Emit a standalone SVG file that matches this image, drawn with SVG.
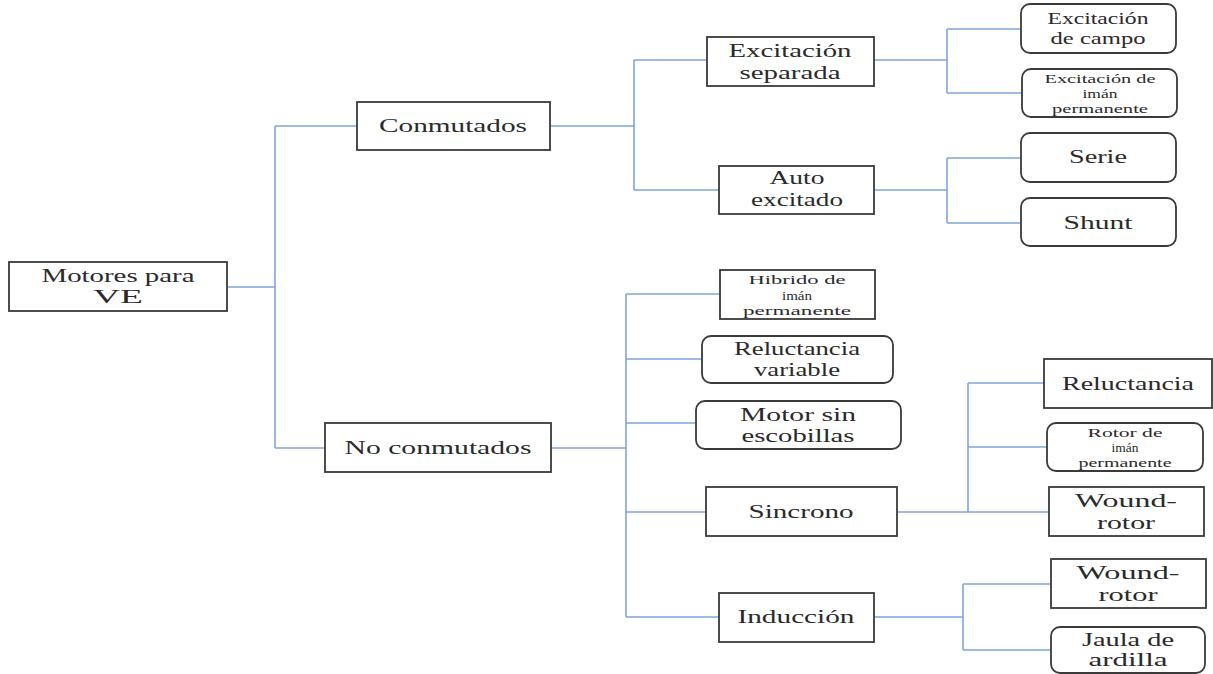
<svg xmlns="http://www.w3.org/2000/svg" width="1213" height="674" viewBox="0 0 1213 674">
<style>
.box{fill:#ffffff;stroke:#3a3a3a;stroke-width:1.8}
.t{font-family:"Liberation Serif","Times New Roman",serif;fill:#2a2a2a;text-anchor:middle;font-size:19px}
.m{font-size:17px}
.s{font-size:13px}
.c{fill:none;stroke:#7fa5da;stroke-width:1.6}
</style>
<rect width="1213" height="674" fill="#ffffff"/>
<g id="connectors">
<path class="c" d="M227,287 H275 M275,126 V448 M275,126 H357 M275,448 H325"/>
<path class="c" d="M550,126 H634 M634,60 V190 M634,60 H707 M634,190 H719"/>
<path class="c" d="M874,60 H947 M947,29 V93 M947,29 H1021 M947,93 H1022"/>
<path class="c" d="M874,190 H947 M947,158 V223 M947,158 H1021 M947,223 H1021"/>
<path class="c" d="M551,448 H626 M626,294 V617 M626,294 H720 M626,359 H702 M626,423 H696 M626,512 H706 M626,617 H719"/>
<path class="c" d="M897,512 H1049 M968,383 V512 M968,383 H1044 M968,447 H1047"/>
<path class="c" d="M874,617 H963 M963,584 V650 M963,584 H1051 M963,650 H1051"/>
</g>
<g id="motores">
<rect class="box" x="9" y="262" width="218" height="49"/>
<text class="t" x="118" y="282" textLength="153" lengthAdjust="spacingAndGlyphs">Motores para</text>
<text class="t" x="118" y="303" textLength="50" lengthAdjust="spacingAndGlyphs">VE</text>
</g>
<g id="conmutados">
<rect class="box" x="357" y="102" width="193" height="48"/>
<text class="t" x="453" y="132" textLength="148" lengthAdjust="spacingAndGlyphs">Conmutados</text>
</g>
<g id="no-conmutados">
<rect class="box" x="325" y="423" width="226" height="49"/>
<text class="t" x="438" y="454" textLength="187" lengthAdjust="spacingAndGlyphs">No conmutados</text>
</g>
<g id="excitacion-separada">
<rect class="box" x="707" y="37" width="167" height="49"/>
<text class="t" x="790" y="57" textLength="123" lengthAdjust="spacingAndGlyphs">Excitación</text>
<text class="t" x="790" y="79" textLength="101" lengthAdjust="spacingAndGlyphs">separada</text>
</g>
<g id="auto-excitado">
<rect class="box" x="719" y="166" width="155" height="48"/>
<text class="t" x="797" y="184" textLength="55" lengthAdjust="spacingAndGlyphs">Auto</text>
<text class="t" x="797" y="206" textLength="92" lengthAdjust="spacingAndGlyphs">excitado</text>
</g>
<g id="excitacion-campo">
<rect class="box" x="1021" y="4" width="155" height="49" rx="9"/>
<text class="t m" x="1098" y="24" textLength="101" lengthAdjust="spacingAndGlyphs">Excitación</text>
<text class="t m" x="1098" y="44" textLength="95" lengthAdjust="spacingAndGlyphs">de campo</text>
</g>
<g id="excitacion-iman">
<rect class="box" x="1022" y="69" width="155" height="48" rx="9"/>
<text class="t s" x="1100" y="83" textLength="111" lengthAdjust="spacingAndGlyphs">Excitación de</text>
<text class="t s" x="1100" y="98" textLength="35" lengthAdjust="spacingAndGlyphs">imán</text>
<text class="t s" x="1100" y="113" textLength="96" lengthAdjust="spacingAndGlyphs">permanente</text>
</g>
<g id="serie">
<rect class="box" x="1021" y="133" width="155" height="49" rx="9"/>
<text class="t" x="1098" y="163" textLength="58" lengthAdjust="spacingAndGlyphs">Serie</text>
</g>
<g id="shunt">
<rect class="box" x="1021" y="198" width="155" height="48" rx="9"/>
<text class="t" x="1098" y="229" textLength="69" lengthAdjust="spacingAndGlyphs">Shunt</text>
</g>
<g id="hibrido">
<rect class="box" x="720" y="270" width="155" height="49"/>
<text class="t s" x="797" y="284" textLength="97" lengthAdjust="spacingAndGlyphs">Hibrido de</text>
<text class="t s" x="797" y="300" textLength="30" lengthAdjust="spacingAndGlyphs">imán</text>
<text class="t s" x="797" y="315" textLength="108" lengthAdjust="spacingAndGlyphs">permanente</text>
</g>
<g id="reluctancia-variable">
<rect class="box" x="702" y="336" width="191" height="47" rx="9"/>
<text class="t" x="797" y="355" textLength="126" lengthAdjust="spacingAndGlyphs">Reluctancia</text>
<text class="t" x="797" y="376" textLength="86" lengthAdjust="spacingAndGlyphs">variable</text>
</g>
<g id="motor-sin-escobillas">
<rect class="box" x="696" y="401" width="205" height="48" rx="9"/>
<text class="t" x="798" y="421" textLength="116" lengthAdjust="spacingAndGlyphs">Motor sin</text>
<text class="t" x="798" y="442" textLength="113" lengthAdjust="spacingAndGlyphs">escobillas</text>
</g>
<g id="sincrono">
<rect class="box" x="706" y="487" width="191" height="49"/>
<text class="t" x="801" y="518" textLength="105" lengthAdjust="spacingAndGlyphs">Sincrono</text>
</g>
<g id="induccion">
<rect class="box" x="719" y="593" width="155" height="49"/>
<text class="t" x="796" y="623" textLength="117" lengthAdjust="spacingAndGlyphs">Inducción</text>
</g>
<g id="reluctancia">
<rect class="box" x="1044" y="359" width="168" height="49"/>
<text class="t" x="1128" y="390" textLength="132" lengthAdjust="spacingAndGlyphs">Reluctancia</text>
</g>
<g id="rotor-iman">
<rect class="box" x="1047" y="423" width="156" height="48" rx="9"/>
<text class="t s" x="1125" y="437" textLength="75" lengthAdjust="spacingAndGlyphs">Rotor de</text>
<text class="t s" x="1125" y="452" textLength="27" lengthAdjust="spacingAndGlyphs">imán</text>
<text class="t s" x="1125" y="467" textLength="93" lengthAdjust="spacingAndGlyphs">permanente</text>
</g>
<g id="wound-rotor-1">
<rect class="box" x="1049" y="487" width="155" height="49"/>
<text class="t" x="1126" y="507" textLength="102" lengthAdjust="spacingAndGlyphs">Wound-</text>
<text class="t" x="1126" y="529" textLength="58" lengthAdjust="spacingAndGlyphs">rotor</text>
</g>
<g id="wound-rotor-2">
<rect class="box" x="1051" y="559" width="155" height="49"/>
<text class="t" x="1128" y="579" textLength="103" lengthAdjust="spacingAndGlyphs">Wound-</text>
<text class="t" x="1128" y="601" textLength="59" lengthAdjust="spacingAndGlyphs">rotor</text>
</g>
<g id="jaula-ardilla">
<rect class="box" x="1051" y="627" width="154" height="46" rx="9"/>
<text class="t" x="1128" y="646" textLength="92" lengthAdjust="spacingAndGlyphs">Jaula de</text>
<text class="t" x="1128" y="666" textLength="79" lengthAdjust="spacingAndGlyphs">ardilla</text>
</g>
</svg>
